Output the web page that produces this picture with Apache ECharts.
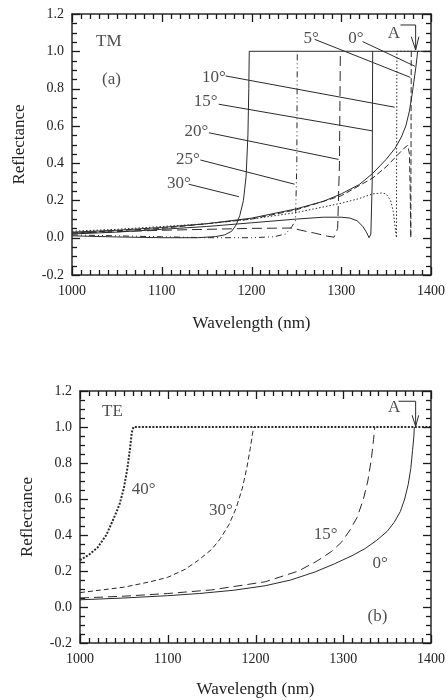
<!DOCTYPE html>
<html>
<head>
<meta charset="utf-8" />
<title>Reflectance TM / TE</title>
<script src="https://cdn.jsdelivr.net/npm/echarts@6/dist/echarts.min.js"></script>
<style>
  html, body { margin: 0; padding: 0; background: #fff; }
  #main { width: 448px; height: 700px; }
</style>
</head>
<body>
<div id="main"></div>
<script>
// ---- data (wavelength nm, reflectance) ----
// (a) TM
var tm0 = [[1000,0.03],[1050,0.04],[1100,0.055],[1150,0.075],[1200,0.105],[1250,0.155],[1280,0.195],[1300,0.235],[1320,0.285],[1335,0.345],[1350,0.42],[1360,0.48],[1367,0.54],[1372,0.6],[1376,0.68],[1379,0.77],[1381,0.84],[1383,0.91],[1384.5,0.97],[1385,1.0],[1400,1.0]];
var tm5 = [[1000,0.025],[1100,0.05],[1200,0.1],[1250,0.15],[1300,0.225],[1335,0.32],[1350,0.38],[1362,0.44],[1370,0.48],[1374,0.495],[1376,0.45],[1377,0.2],[1377.5,0.0],[1378,0.0],[1378,1.0]];
var tm10 = [[1000,0.035],[1050,0.045],[1100,0.06],[1150,0.075],[1200,0.1],[1250,0.135],[1300,0.185],[1320,0.21],[1335,0.235],[1345,0.24],[1350,0.235],[1355,0.2],[1358,0.14],[1360,0.06],[1361.5,0.0],[1362,0.0],[1362,1.0],[1400,1.0]];
var tm15 = [[1000,0.02],[1050,0.03],[1100,0.045],[1150,0.06],[1200,0.08],[1250,0.1],[1280,0.11],[1300,0.11],[1310,0.105],[1318,0.09],[1324,0.06],[1328,0.03],[1331,0.0],[1333,0.02],[1334.5,0.3],[1335,1.0]];
var tm20 = [[1000,0.025],[1100,0.04],[1200,0.05],[1245,0.052],[1255,0.04],[1270,0.025],[1285,0.008],[1292,0.003],[1296,0.05],[1298,0.4],[1299,1.0]];
var tm25 = [[1000,0.015],[1050,0.01],[1100,0.005],[1150,0.0],[1200,0.0],[1225,0.005],[1238,0.02],[1245,0.06],[1249,0.09],[1250.5,0.4],[1251,1.0]];
var tm30 = [[1000,0.01],[1050,0.004],[1100,0.0],[1140,0.0],[1160,0.006],[1170,0.015],[1178,0.035],[1183,0.07],[1187,0.12],[1191,0.2],[1194,0.33],[1196,0.55],[1197,0.8],[1197.5,1.0],[1385,1.0]];

// (b) TE
var te0 = [[1000,0.04],[1050,0.05],[1100,0.063],[1136,0.075],[1175,0.093],[1211,0.118],[1240,0.15],[1268,0.195],[1290,0.24],[1310,0.285],[1325,0.325],[1338,0.37],[1350,0.42],[1358,0.47],[1365,0.53],[1370,0.6],[1374,0.68],[1377,0.77],[1379,0.87],[1380.5,0.95],[1381,1.0]];
var te15 = [[1000,0.05],[1050,0.06],[1100,0.075],[1150,0.095],[1211,0.14],[1249,0.2],[1270,0.255],[1287,0.31],[1298,0.36],[1308,0.43],[1316,0.5],[1323,0.6],[1328,0.7],[1332,0.82],[1334.5,0.93],[1336,1.0]];
var te30 = [[1000,0.08],[1050,0.11],[1080,0.14],[1100,0.165],[1120,0.21],[1135,0.26],[1150,0.32],[1160,0.38],[1170,0.46],[1178,0.55],[1185,0.66],[1190,0.77],[1194,0.88],[1196.5,0.96],[1198,1.0]];
var te40 = [[1000,0.26],[1010,0.29],[1020,0.33],[1030,0.4],[1040,0.51],[1045,0.57],[1050,0.66],[1054,0.77],[1057,0.88],[1059,0.97],[1061,1.0],[1400,1.0]];

// leader lines and labels
var tmLeaders = [
  [[1270.4,1.064],[1377,0.86]],
  [[1323.8,1.052],[1382,0.92]],
  [[1171,0.868],[1359.5,0.70]],
  [[1163.5,0.716],[1334.8,0.573]],
  [[1152.5,0.563],[1297,0.42]],
  [[1143,0.417],[1248,0.287]],
  [[1130,0.287],[1186,0.22]]
];
var tmLabels = [
  ['5°',1266.6,1.071],['0°',1316.4,1.071],['10°',1158,0.86],['15°',1148.8,0.73],
  ['20°',1138.5,0.569],['25°',1129,0.417],['30°',1119,0.292],
  ['TM',1041,1.05],['(a)',1044,0.85],['A',1358.7,1.093]
];
var teLabels = [
  ['40°',1072.5,0.653],['30°',1160.5,0.538],['15°',1280,0.405],['0°',1342,0.242],
  ['TE',1037,1.084],['(b)',1339,-0.054],['A',1358,1.108]
];
var tmArrow = [[1366,1.141],[1382.9,1.141],[1382.9,1.007]];
var tmArrowHead = [[1378,1.078],[1382.9,1.007],[1386.5,1.078]];
var teArrow = [[1363,1.143],[1382.5,1.143],[1382.5,1.003]];
var teArrowHead = [[1378.5,1.065],[1382.5,1.003],[1386,1.065]];

// axis ranges and tick values
var xMin = 1000, xMax = 1400, yMin = -0.2, yMax = 1.2;
var xMinorTicks = [];
for (var t = 1000; t <= 1400; t += 10) xMinorTicks.push(t);
var yMinorTicks = [];
for (var k = -4; k <= 24; k++) yMinorTicks.push(k * 0.05);

var serif = "'Liberation Serif', 'Times New Roman', serif";
var ink = '#2a2a2a';

var myChart = echarts.init(document.getElementById('main'));

function xAx(grid, pos, showLabel) {
  return {
    type: 'value', gridIndex: grid, position: pos,
    min: xMin, max: xMax, interval: 100,
    axisLine: { show: true, onZero: false, lineStyle: { color: ink, width: 1.5 } },
    axisTick: { show: false },
    axisLabel: { show: showLabel, margin: 9, fontSize: 14, color: '#222', fontFamily: serif,
      formatter: function (v) { return String(v); } },
    splitLine: { show: false },
    name: showLabel ? 'Wavelength (nm)' : '',
    nameLocation: 'middle', nameGap: grid === 0 ? 40 : 38,
    nameTextStyle: { fontSize: 17, color: '#222', fontFamily: serif }
  };
}
function yAx(grid, pos, showLabel) {
  return {
    type: 'value', gridIndex: grid, position: pos,
    min: yMin, max: yMax, interval: 0.2,
    axisLine: { show: true, onZero: false, lineStyle: { color: ink, width: 1.5 } },
    axisTick: { show: false },
    axisLabel: { show: showLabel, margin: 8, fontSize: 14, color: '#222', fontFamily: serif,
      formatter: function (v) { return v.toFixed(1); } },
    splitLine: { show: false },
    name: showLabel ? 'Reflectance' : '',
    nameLocation: 'middle', nameRotate: 90, nameGap: 44,
    nameTextStyle: { fontSize: 17, color: '#222', fontFamily: serif }
  };
}

var xAxes = [xAx(0, 'bottom', true), xAx(0, 'top', false), xAx(1, 'bottom', true), xAx(1, 'top', false)];
var yAxes = [yAx(0, 'left', true), yAx(0, 'right', false), yAx(1, 'left', true), yAx(1, 'right', false)];

function curve(data, grid, dash, width) {
  return {
    type: 'line', xAxisIndex: grid * 2, yAxisIndex: grid * 2,
    data: data, showSymbol: false, symbol: 'none', silent: true,
    lineStyle: { color: ink, width: width || 1, type: dash || 'solid' },
    animation: false
  };
}
function texts(list, grid) {
  return {
    type: 'scatter', xAxisIndex: grid * 2, yAxisIndex: grid * 2,
    symbolSize: 1, itemStyle: { color: 'rgba(0,0,0,0)' }, silent: true, animation: false,
    data: list.map(function (t) { return { name: t[0], value: [t[1], t[2]] }; }),
    label: { show: true, position: 'inside', formatter: '{b}', fontSize: 17,
      color: '#222', fontFamily: serif }
  };
}

var series = [
  curve(tm0, 0),
  curve(tm5, 0, [6, 3]),
  curve(tm10, 0, [1.5, 2]),
  curve(tm15, 0),
  curve(tm20, 0, [10, 5]),
  curve(tm25, 0, [6, 3, 1, 3, 1, 3]),
  curve(tm30, 0),
  curve(tmArrow, 0),
  curve(tmArrowHead, 0),
  curve(te0, 1),
  curve(te15, 1, [9, 5]),
  curve(te30, 1, [5, 3]),
  curve(te40, 1, [2, 1.5], 2),
  curve(teArrow, 1),
  curve(teArrowHead, 1),
  texts(tmLabels, 0),
  texts(teLabels, 1)
];
tmLeaders.forEach(function (seg) { series.push(curve(seg, 0)); });

myChart.setOption({
  animation: false,
  grid: [
    { left: 72, top: 14, width: 362, height: 261 },
    { left: 80, top: 391, width: 353, height: 252 }
  ],
  xAxis: xAxes,
  yAxis: yAxes,
  series: series
});

// inward minor/major ticks on all four sides, positioned through the axis scales,
// drawn on their own canvas layer (zlevel 1) with an explicit solid stroke
function tickEl(x1, y1, x2, y2) {
  return { type: 'line', zlevel: 1, z: 100, silent: true,
    shape: { x1: x1, y1: y1, x2: x2, y2: y2 },
    style: { stroke: '#1a1a1a', lineWidth: 1.3, lineDash: null } };
}
var ticks = [];
[0, 1].forEach(function (g) {
  var xi = g * 2, yi = g * 2;
  var yB = myChart.convertToPixel({ yAxisIndex: yi }, yMin);
  var yT = myChart.convertToPixel({ yAxisIndex: yi }, yMax);
  var xL = myChart.convertToPixel({ xAxisIndex: xi }, xMin);
  var xR = myChart.convertToPixel({ xAxisIndex: xi }, xMax);
  xMinorTicks.forEach(function (v) {
    var px = Math.round(myChart.convertToPixel({ xAxisIndex: xi }, v)) + 0.5;
    var len = (v % 100 === 0) ? 8 : 5;
    ticks.push(tickEl(px, yB, px, yB - len));
    ticks.push(tickEl(px, yT, px, yT + len));
  });
  yMinorTicks.forEach(function (v) {
    var py = Math.round(myChart.convertToPixel({ yAxisIndex: yi }, v)) + 0.5;
    var len = (Math.round(v * 100) % 20 === 0) ? 8 : 5;
    ticks.push(tickEl(xL, py, xL + len, py));
    ticks.push(tickEl(xR, py, xR - len, py));
  });
});
myChart.setOption({ graphic: ticks });

window.onresize = function () { myChart.resize(); };
</script>
</body>
</html>
